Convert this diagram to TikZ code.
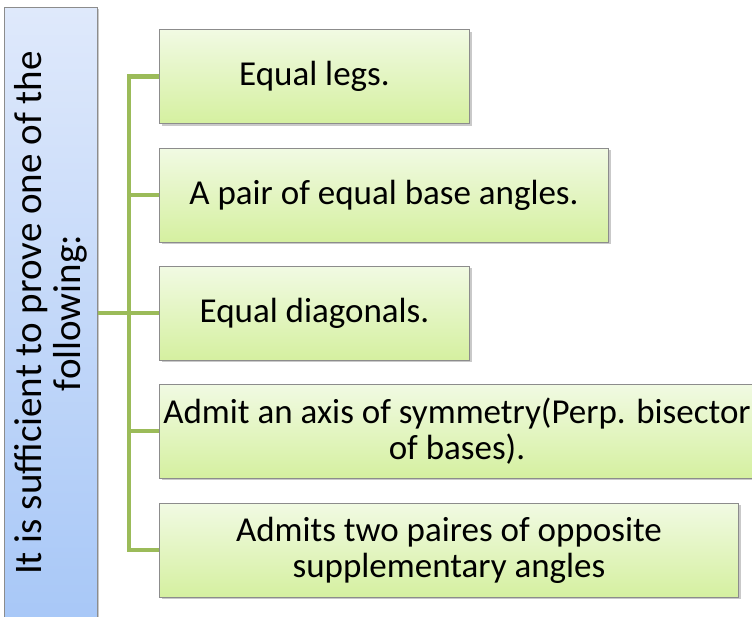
\documentclass[tikz,border=0pt]{standalone}
\usepackage{fontspec}
\setmainfont{Carlito}
\usetikzlibrary{shadows}
\definecolor{gtop}{HTML}{F1FAE3}
\definecolor{gbot}{HTML}{D5F0A0}
\definecolor{btop}{HTML}{DFE9FB}
\definecolor{bbot}{HTML}{A7C7F7}
\definecolor{conn}{HTML}{9BBB59}
\definecolor{edge}{HTML}{8C8C8C}
\begin{document}
\begin{tikzpicture}[x=1pt,y=-1pt,
  item/.style={draw=edge, line width=1pt, top color=gtop, bottom color=gbot,
    anchor=west, minimum height=94pt, inner sep=2pt, align=center,
    font=\fontsize{35}{36}\selectfont,
    drop shadow={shadow xshift=2pt, shadow yshift=-2pt, opacity=0.35, fill=black!60}},
  leadbox/.style={draw=edge, line width=1pt, top color=btop, bottom color=bbot,
    minimum width=93pt, minimum height=623pt, inner sep=0pt,
    drop shadow={shadow xshift=2pt, shadow yshift=-2pt, opacity=0.35, fill=black!60}},
  leadtext/.style={rotate=90, align=center, inner sep=0pt,
    font=\fontsize{39}{39}\selectfont},
  connline/.style={draw=conn, line width=4.5pt, line join=miter}]
\useasboundingbox (0,0) rectangle (752,616);
\fill[white] (0,0) rectangle (752,616);
\coordinate (jx) at (129,313);
\node[leadbox] (lead) at (50.5,318.5) {};
\node[leadtext] (leadt) at (51,313) {It is sufficient to prove one of the\\following:};
\node[item, minimum width=310pt] (b1) at (159,76.5) {Equal legs.};
\node[item, minimum width=449pt] (b2) at (159,195) {A pair of equal base angles.};
\node[item, minimum width=310pt] (b3) at (159,313) {Equal diagonals.};
\node[item, minimum width=595pt] (b4) at (159,431) {Admit an axis of symmetry(Perp. bisector\\of bases).};
\node[item, minimum width=579pt] (b5) at (159,550) {Admits two paires of opposite\\supplementary angles};
\draw[connline] (b1.west) -- (b1.west -| jx) -- (b5.west -| jx) -- (b5.west);
\draw[connline] (b2.west) -- (b2.west -| jx);
\draw[connline] (b3.west) -- (b3.west -| jx);
\draw[connline] (b4.west) -- (b4.west -| jx);
\draw[connline] (lead.east |- jx) -- (jx);
\end{tikzpicture}
\end{document}
